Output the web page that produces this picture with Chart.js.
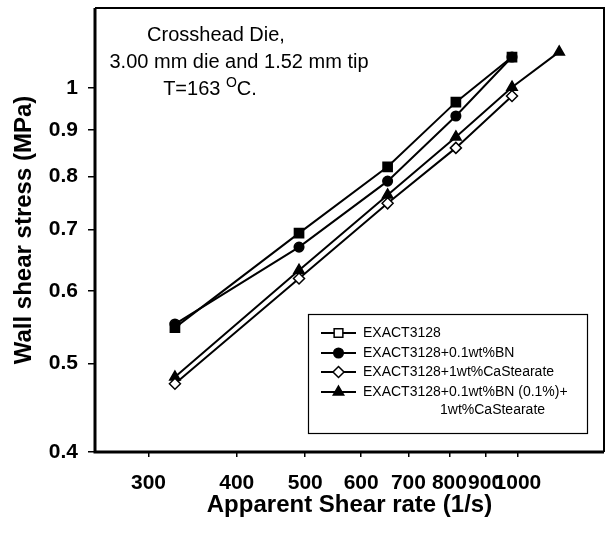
<!DOCTYPE html>
<html><head><meta charset="utf-8">
<script src="https://cdn.jsdelivr.net/npm/chart.js@4"></script>
<style>html,body{margin:0;padding:0;background:#fff;}#wrap{width:612px;height:534px;}</style>
</head><body><div id="wrap"><canvas id="c" width="612" height="534"></canvas></div>
<script>
// ---- data ----
const shearRate = [327, 490, 654, 817, 981];
const shearRateTri = [327, 490, 654, 817, 981, 1144];
const exact = [0.547, 0.694, 0.820, 0.965, 1.081];
const exactBN = [0.552, 0.670, 0.791, 0.932, 1.081];
const exactCa = [0.475, 0.619, 0.748, 0.860, 0.980];
const exactBNCa = [0.483, 0.632, 0.764, 0.884, 1.002, 1.095];
const xTicks = [300, 400, 500, 600, 700, 800, 900, 1000];
const xTickLabels = ['300', '400', '500', '600', '700', '800', '900', '1000'];
const yTicks = [0.4, 0.5, 0.6, 0.7, 0.8, 0.9, 1];
const yTickLabels = ['0.4', '0.5', '0.6', '0.7', '0.8', '0.9', '1'];
const seriesNames = ['EXACT3128', 'EXACT3128+0.1wt%BN', 'EXACT3128+1wt%CaStearate', ['EXACT3128+0.1wt%BN (0.1%)+', '1wt%CaStearate']];
const noteLines = ['Crosshead Die,', '3.00 mm die and 1.52 mm tip'];
const xTitle = 'Apparent Shear rate (1/s)';
const yTitle = 'Wall shear stress (MPa)';

const FONT = '"Liberation Sans", Arial, Helvetica, sans-serif';
const pts = (xs, ys) => xs.map((x, i) => ({x: x, y: ys[i]}));

const styles = [
  {pointStyle: 'rect', r: 6.5, fill: '#000', legendFill: '#fff'},
  {pointStyle: 'circle', r: 4.8, fill: '#000', legendFill: '#000'},
  {pointStyle: 'rectRot', r: 5.5, fill: '#fff', legendFill: '#fff'},
  {pointStyle: 'triangle', r: 6, fill: '#000', legendFill: '#000'}
];
const seriesData = [pts(shearRate, exact), pts(shearRate, exactBN), pts(shearRate, exactCa), pts(shearRateTri, exactBNCa)];

const datasets = seriesData.map((d, i) => ({
  label: Array.isArray(seriesNames[i]) ? seriesNames[i].join(' ') : seriesNames[i],
  data: d,
  showLine: true,
  borderColor: '#000',
  borderWidth: 2,
  pointStyle: styles[i].pointStyle,
  pointRadius: styles[i].r,
  pointBackgroundColor: styles[i].fill,
  pointBorderColor: '#000',
  pointBorderWidth: 1.5,
  tension: 0
}));

function drawMarker(ctx, style, x, y, r, fill) {
  ctx.beginPath();
  if (style === 'rect') {
    const s = r * Math.SQRT1_2;
    ctx.rect(x - s, y - s, 2 * s, 2 * s);
  } else if (style === 'circle') {
    ctx.arc(x, y, r, 0, Math.PI * 2);
  } else if (style === 'rectRot') {
    ctx.moveTo(x, y - r); ctx.lineTo(x + r, y); ctx.lineTo(x, y + r); ctx.lineTo(x - r, y); ctx.closePath();
  } else if (style === 'triangle') {
    ctx.moveTo(x, y - r);
    ctx.lineTo(x + r * 0.866, y + r * 0.5);
    ctx.lineTo(x - r * 0.866, y + r * 0.5);
    ctx.closePath();
  }
  ctx.fillStyle = fill; ctx.fill();
  ctx.lineWidth = 1.5; ctx.strokeStyle = '#000'; ctx.stroke();
}

const framePlugin = {
  id: 'frame',
  afterDraw(chart) {
    const {ctx, chartArea: a} = chart;
    ctx.save();
    ctx.strokeStyle = '#000';
    ctx.lineWidth = 2;
    ctx.beginPath();
    ctx.moveTo(a.left, a.top); ctx.lineTo(a.right, a.top); ctx.lineTo(a.right, a.bottom);
    ctx.stroke();
    ctx.lineWidth = 3;
    ctx.beginPath();
    ctx.moveTo(a.left, a.top); ctx.lineTo(a.left, a.bottom); ctx.lineTo(a.right, a.bottom);
    ctx.stroke();
    ctx.restore();
  }
};

const notePlugin = {
  id: 'note',
  afterDraw(chart) {
    const ctx = chart.ctx;
    ctx.save();
    ctx.fillStyle = '#000';
    ctx.textBaseline = 'middle';
    ctx.textAlign = 'center';
    ctx.font = '20px ' + FONT;
    ctx.fillText(noteLines[0], 216, 35);
    ctx.fillText(noteLines[1], 239, 62);
    // T=163 °C.
    ctx.textAlign = 'left';
    const a = 'T=163 ', b = 'O', c = 'C.';
    ctx.font = '20px ' + FONT; const wa = ctx.measureText(a).width, wc = ctx.measureText(c).width;
    ctx.font = '14px ' + FONT; const wb = ctx.measureText(b).width;
    let x = 210 - (wa + wb + wc) / 2;
    ctx.font = '20px ' + FONT; ctx.fillText(a, x, 89); x += wa;
    ctx.font = '14px ' + FONT; ctx.fillText(b, x, 83); x += wb;
    ctx.font = '20px ' + FONT; ctx.fillText(c, x, 89);
    ctx.restore();
  }
};

const legendPlugin = {
  id: 'boxLegend',
  afterDraw(chart) {
    const ctx = chart.ctx;
    ctx.save();
    ctx.fillStyle = '#fff';
    ctx.fillRect(308, 314, 279, 119);
    ctx.strokeStyle = '#000'; ctx.lineWidth = 1.2;
    ctx.strokeRect(308.5, 314.5, 279, 119);
    const rows = [333, 353, 372, 392];
    ctx.font = '14px ' + FONT;
    ctx.textBaseline = 'middle'; ctx.textAlign = 'left';
    seriesNames.forEach((name, i) => {
      const y = rows[i];
      ctx.strokeStyle = '#000'; ctx.lineWidth = 2;
      ctx.beginPath(); ctx.moveTo(321, y); ctx.lineTo(356, y); ctx.stroke();
      drawMarker(ctx, styles[i].pointStyle, 338.5, y, styles[i].r * (i === 0 ? 0.95 : 1), styles[i].legendFill);
      ctx.fillStyle = '#000';
      if (Array.isArray(name)) {
        ctx.fillText(name[0], 363, y);
        ctx.fillText(name[1], 440, y + 18);
      } else {
        ctx.fillText(name, 363, y);
      }
    });
    ctx.restore();
  }
};

new Chart(document.getElementById('c'), {
  type: 'scatter',
  data: {datasets: datasets},
  plugins: [framePlugin, notePlugin, legendPlugin],
  options: {
    responsive: false,
    animation: false,
    devicePixelRatio: 1,
    layout: {padding: {top: 8, right: 4, left: 0, bottom: 0}},
    plugins: {legend: {display: false}, tooltip: {enabled: false}},
    scales: {
      x: {
        type: 'logarithmic',
        min: 252, max: 1324,
        bounds: 'data',
        afterBuildTicks: s => { s.ticks = xTicks.map(v => ({value: v})); },
        afterFit: s => { s.height = 82; s.paddingLeft = 0; s.paddingRight = 0; },
        ticks: {
          callback: (v, i) => xTickLabels[i],
          color: '#000', font: {family: FONT, size: 21, weight: 'bold'},
          padding: 14, maxRotation: 0, autoSkip: false
        },
        grid: {display: true, drawOnChartArea: false, drawTicks: true, tickLength: 5, color: '#000', lineWidth: 1.5},
        border: {display: false},
        title: {display: true, text: xTitle, color: '#000', font: {family: FONT, size: 24, weight: 'bold'}, padding: {top: 0, bottom: 14}}
      },
      y: {
        type: 'logarithmic',
        min: 0.4, max: 1.223,
        bounds: 'data',
        afterBuildTicks: s => { s.ticks = yTicks.map(v => ({value: v})); },
        afterFit: s => { s.width = 95; s.paddingTop = 0; s.paddingBottom = 0; },
        ticks: {
          callback: (v, i) => yTickLabels[i],
          color: '#000', font: {family: FONT, size: 21, weight: 'bold'},
          padding: 10, autoSkip: false
        },
        grid: {display: true, drawOnChartArea: false, drawTicks: true, tickLength: 7, color: '#000', lineWidth: 1.5},
        border: {display: false},
        title: {display: true, text: yTitle, color: '#000', font: {family: FONT, size: 24, weight: 'bold'}, padding: {top: 10, bottom: 0}}
      }
    }
  }
});
</script>
</body></html>
